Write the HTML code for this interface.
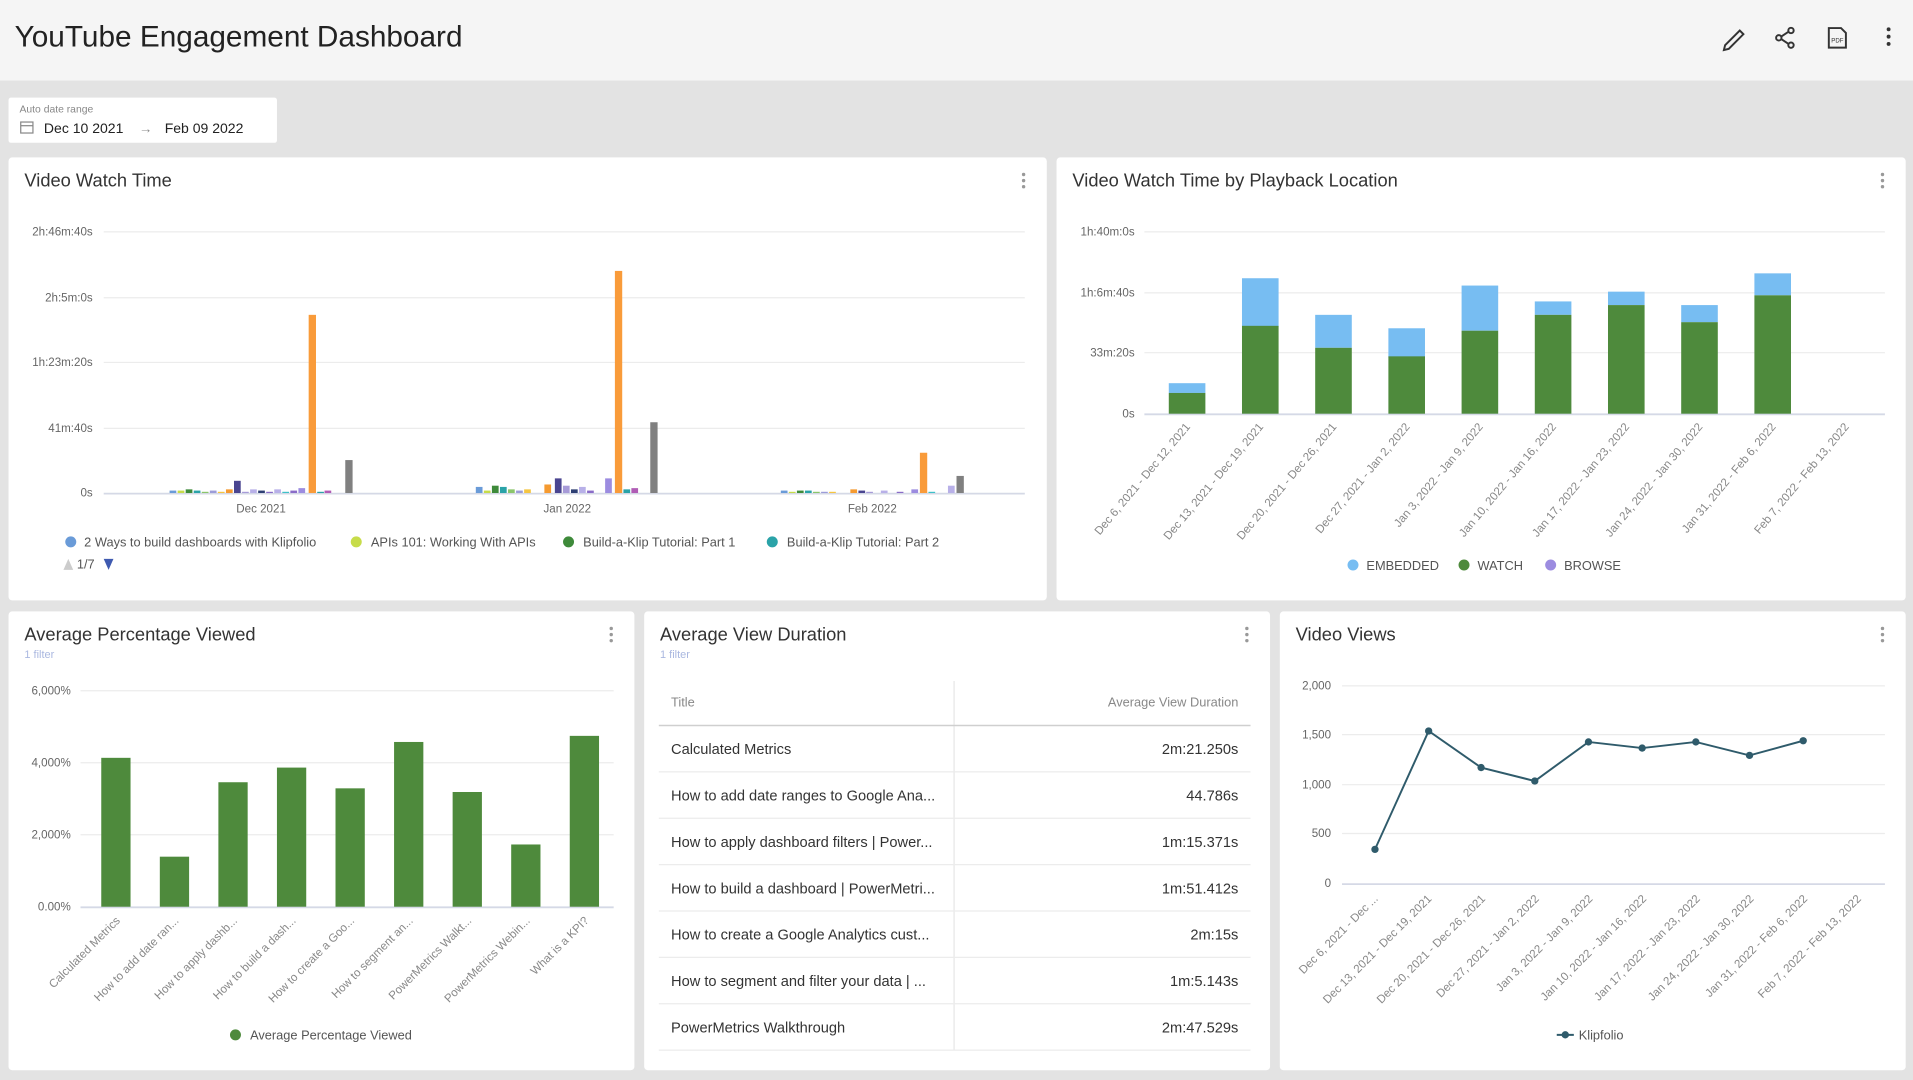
<!DOCTYPE html>
<html><head><meta charset="utf-8"><style>
html,body{margin:0;padding:0;width:1913px;height:1080px;overflow:hidden;background:#e3e3e3}
svg{display:block}
text{font-family:"Liberation Sans",sans-serif}
.ax{font-size:9.5px;fill:#666}
.gl{stroke:#ececec;stroke-width:1}
.bl{stroke:#d5d9e6;stroke-width:1.5}
.tt{font-size:15px;fill:#333}
.lg{font-size:10.5px;fill:#555}
.rt{font-size:9.5px;fill:#888}
.td{font-size:12px;fill:#333}
</style></head><body>
<svg width="1913" height="1080" viewBox="0 0 1568 885" preserveAspectRatio="none">
<rect x="0" y="0" width="1568" height="885" fill="#e3e3e3"/>
<rect x="0" y="0" width="1568" height="66" fill="#f5f5f5"/>
<text x="12" y="38" font-size="24.4" fill="#222">YouTube Engagement Dashboard</text>
<g stroke="#333" stroke-width="1.6" fill="none">
<path d="M1414 37 L1426 25 L1429 28 L1417 40 L1413 41 Z"/>
<circle cx="1468" cy="25" r="2.2"/><circle cx="1458" cy="31" r="2.2"/><circle cx="1468" cy="37" r="2.2"/>
<path d="M1466 26 L1460 30 M1460 32 L1466 36"/>
<path d="M1499 23 L1509 23 L1513 27 L1513 39 L1499 39 Z"/>
</g>
<text x="1501" y="35" font-size="5" fill="#333">PDF</text>
<circle cx="1548" cy="24" r="1.6" fill="#333"/><circle cx="1548" cy="30" r="1.6" fill="#333"/><circle cx="1548" cy="36" r="1.6" fill="#333"/>

<rect x="7" y="80" width="220" height="37" fill="#fff" rx="2"/>
<text x="16" y="92" font-size="8.5" fill="#888">Auto date range</text>
<rect x="17" y="100" width="10" height="9" fill="none" stroke="#888" stroke-width="1"/>
<line x1="17" y1="103" x2="27" y2="103" stroke="#888"/>
<text x="36" y="109" font-size="11.5" fill="#222">Dec 10 2021</text>
<text x="114" y="109" font-size="11" fill="#888">→</text>
<text x="135" y="109" font-size="11.5" fill="#222">Feb 09 2022</text>

<rect x="7" y="129" width="851" height="363" fill="#fff" rx="3"/>
<rect x="866" y="129" width="696" height="363" fill="#fff" rx="3"/>
<rect x="7" y="501" width="513" height="376" fill="#fff" rx="3"/>
<rect x="528" y="501" width="513" height="376" fill="#fff" rx="3"/>
<rect x="1049" y="501" width="513" height="376" fill="#fff" rx="3"/>
<g fill="#999">
<circle cx="839" cy="143" r="1.4"/><circle cx="839" cy="148" r="1.4"/><circle cx="839" cy="153" r="1.4"/>
<circle cx="1543" cy="143" r="1.4"/><circle cx="1543" cy="148" r="1.4"/><circle cx="1543" cy="153" r="1.4"/>
<circle cx="501" cy="515" r="1.4"/><circle cx="501" cy="520" r="1.4"/><circle cx="501" cy="525" r="1.4"/>
<circle cx="1022" cy="515" r="1.4"/><circle cx="1022" cy="520" r="1.4"/><circle cx="1022" cy="525" r="1.4"/>
<circle cx="1543" cy="515" r="1.4"/><circle cx="1543" cy="520" r="1.4"/><circle cx="1543" cy="525" r="1.4"/>
</g>

<text x="20" y="153" class="tt">Video Watch Time</text>
<g class="ax" text-anchor="end">
<text x="76" y="193">2h:46m:40s</text><text x="76" y="247">2h:5m:0s</text><text x="76" y="300">1h:23m:20s</text><text x="76" y="354">41m:40s</text><text x="76" y="407">0s</text>
</g>
<line x1="85" y1="190" x2="840" y2="190" class="gl"/><line x1="85" y1="244" x2="840" y2="244" class="gl"/><line x1="85" y1="297" x2="840" y2="297" class="gl"/><line x1="85" y1="351" x2="840" y2="351" class="gl"/>
<line x1="85" y1="404.5" x2="840" y2="404.5" class="bl"/>
<g>
<rect x="139" y="402" width="5.5" height="2" fill="#6a9bd8"/>
<rect x="145.6" y="402" width="5.5" height="2" fill="#c7dc4a"/>
<rect x="152.2" y="401" width="5.5" height="3" fill="#3e8a3a"/>
<rect x="158.8" y="402" width="5.5" height="2" fill="#2aa3a8"/>
<rect x="165.4" y="403" width="5.5" height="1" fill="#8bc56b"/>
<rect x="172" y="402" width="5.5" height="2" fill="#9c9cd8"/>
<rect x="178.6" y="403" width="5.5" height="1" fill="#f5c542"/>
<rect x="185.2" y="401" width="5.5" height="3" fill="#f59a30"/>
<rect x="191.8" y="394" width="5.5" height="10" fill="#4a4590"/>
<rect x="198.4" y="403" width="5.5" height="1" fill="#a79bd8"/>
<rect x="205" y="401" width="5.5" height="3" fill="#b8b0e8"/>
<rect x="211.6" y="402" width="5.5" height="2" fill="#2d3f73"/>
<rect x="218.2" y="403" width="5.5" height="1" fill="#8a6cc8"/>
<rect x="224.8" y="401" width="5.5" height="3" fill="#b8b0e8"/>
<rect x="231.4" y="403" width="5.5" height="1" fill="#3fc1c9"/>
<rect x="238" y="402" width="5.5" height="2" fill="#8a6cc8"/>
<rect x="244.6" y="400" width="5.5" height="4" fill="#9c8ce0"/>
<rect x="253" y="258" width="6" height="146" fill="#f99b3a"/>
<rect x="260" y="403" width="5.5" height="1" fill="#2aa3a8"/>
<rect x="266" y="402" width="5.5" height="2" fill="#b05cb5"/>
<rect x="283" y="377" width="6" height="27" fill="#808080"/>
</g>
<g>
<rect x="390" y="399" width="5.5" height="5" fill="#6a9bd8"/>
<rect x="396.6" y="402" width="5.5" height="2" fill="#c7dc4a"/>
<rect x="403.2" y="398" width="5.5" height="6" fill="#3e8a3a"/>
<rect x="409.8" y="399" width="5.5" height="5" fill="#2aa3a8"/>
<rect x="416.4" y="401" width="5.5" height="3" fill="#8bc56b"/>
<rect x="423" y="402" width="5.5" height="2" fill="#9c9cd8"/>
<rect x="429.6" y="401" width="5.5" height="3" fill="#f5c542"/>
<rect x="446.2" y="397" width="5.5" height="7" fill="#f59a30"/>
<rect x="454.8" y="392" width="5.5" height="12" fill="#4a4590"/>
<rect x="461.4" y="398" width="5.5" height="6" fill="#a79bd8"/>
<rect x="468" y="401" width="5.5" height="3" fill="#2d3f73"/>
<rect x="474.6" y="399" width="5.5" height="5" fill="#b8b0e8"/>
<rect x="481.2" y="402" width="5.5" height="2" fill="#8a6cc8"/>
<rect x="496" y="392" width="5.5" height="12" fill="#9c8ce0"/>
<rect x="504" y="222" width="6" height="182" fill="#f99b3a"/>
<rect x="511" y="401" width="5.5" height="3" fill="#2aa3a8"/>
<rect x="517.5" y="400" width="5.5" height="4" fill="#b05cb5"/>
<rect x="533" y="346" width="6" height="58" fill="#808080"/>
</g>
<g>
<rect x="640" y="402" width="5.5" height="2" fill="#6a9bd8"/>
<rect x="646.6" y="403" width="5.5" height="1" fill="#c7dc4a"/>
<rect x="653.2" y="402" width="5.5" height="2" fill="#3e8a3a"/>
<rect x="659.8" y="402" width="5.5" height="2" fill="#2aa3a8"/>
<rect x="666.4" y="403" width="5.5" height="1" fill="#8bc56b"/>
<rect x="673" y="403" width="5.5" height="1" fill="#9c9cd8"/>
<rect x="679.6" y="403" width="5.5" height="1" fill="#f5c542"/>
<rect x="697" y="401" width="5.5" height="3" fill="#f59a30"/>
<rect x="703.6" y="402" width="5.5" height="2" fill="#4a4590"/>
<rect x="710" y="403" width="5.5" height="1" fill="#a79bd8"/>
<rect x="722" y="402" width="5.5" height="2" fill="#b8b0e8"/>
<rect x="735" y="403" width="5.5" height="1" fill="#8a6cc8"/>
<rect x="747" y="401" width="5.5" height="3" fill="#9c8ce0"/>
<rect x="754" y="371" width="6" height="33" fill="#f99b3a"/>
<rect x="761" y="403" width="5.5" height="1" fill="#3fc1c9"/>
<rect x="777" y="398" width="5.5" height="6" fill="#b8b0e8"/>
<rect x="784" y="390" width="6" height="14" fill="#808080"/>
</g>
<g class="ax" text-anchor="middle"><text x="214" y="420">Dec 2021</text><text x="465" y="420">Jan 2022</text><text x="715" y="420">Feb 2022</text></g>
<circle cx="58" cy="444" r="4.5" fill="#6a9bd8"/><text x="69" y="448" class="lg">2 Ways to build dashboards with Klipfolio</text>
<circle cx="292" cy="444" r="4.5" fill="#c7dc4a"/><text x="304" y="448" class="lg">APIs 101: Working With APIs</text>
<circle cx="466" cy="444" r="4.5" fill="#3e8a3a"/><text x="478" y="448" class="lg">Build-a-Klip Tutorial: Part 1</text>
<circle cx="633" cy="444" r="4.5" fill="#2aa3a8"/><text x="645" y="448" class="lg">Build-a-Klip Tutorial: Part 2</text>
<path d="M52 467 L56 458 L60 467 Z" fill="#ccc"/><text x="63" y="466" class="lg">1/7</text><path d="M85 458 L93 458 L89 467 Z" fill="#3f5ab0"/>

<text x="879" y="153" class="tt">Video Watch Time by Playback Location</text>
<g class="ax" text-anchor="end"><text x="930" y="193">1h:40m:0s</text><text x="930" y="243">1h:6m:40s</text><text x="930" y="292">33m:20s</text><text x="930" y="342">0s</text></g>
<line x1="938" y1="190" x2="1545" y2="190" class="gl"/><line x1="938" y1="240" x2="1545" y2="240" class="gl"/><line x1="938" y1="289" x2="1545" y2="289" class="gl"/>
<line x1="938" y1="339.5" x2="1545" y2="339.5" class="bl"/>
<g fill="#77bdf2">
<rect x="958" y="314" width="30" height="8"/><rect x="1018" y="228" width="30" height="40"/><rect x="1078" y="258" width="30" height="27"/><rect x="1138" y="269" width="30" height="24"/><rect x="1198" y="234" width="30" height="37"/><rect x="1258" y="247" width="30" height="11"/><rect x="1318" y="239" width="30" height="11"/><rect x="1378" y="250" width="30" height="14"/><rect x="1438" y="224" width="30" height="18"/>
</g>
<g fill="#4e8a3c">
<rect x="958" y="322" width="30" height="17"/><rect x="1018" y="267" width="30" height="72"/><rect x="1078" y="285" width="30" height="54"/><rect x="1138" y="292" width="30" height="47"/><rect x="1198" y="271" width="30" height="68"/><rect x="1258" y="258" width="30" height="81"/><rect x="1318" y="250" width="30" height="89"/><rect x="1378" y="264" width="30" height="75"/><rect x="1438" y="242" width="30" height="97"/>
</g>
<g class="rt" text-anchor="end">
<text transform="translate(976,350) rotate(-50)">Dec 6, 2021 - Dec 12, 2021</text>
<text transform="translate(1036,350) rotate(-50)">Dec 13, 2021 - Dec 19, 2021</text>
<text transform="translate(1096,350) rotate(-50)">Dec 20, 2021 - Dec 26, 2021</text>
<text transform="translate(1156,350) rotate(-50)">Dec 27, 2021 - Jan 2, 2022</text>
<text transform="translate(1216,350) rotate(-50)">Jan 3, 2022 - Jan 9, 2022</text>
<text transform="translate(1276,350) rotate(-50)">Jan 10, 2022 - Jan 16, 2022</text>
<text transform="translate(1336,350) rotate(-50)">Jan 17, 2022 - Jan 23, 2022</text>
<text transform="translate(1396,350) rotate(-50)">Jan 24, 2022 - Jan 30, 2022</text>
<text transform="translate(1456,350) rotate(-50)">Jan 31, 2022 - Feb 6, 2022</text>
<text transform="translate(1516,350) rotate(-50)">Feb 7, 2022 - Feb 13, 2022</text>
</g>
<circle cx="1109" cy="463" r="4.5" fill="#77bdf2"/><text x="1120" y="467" class="lg">EMBEDDED</text>
<circle cx="1200" cy="463" r="4.5" fill="#4e8a3c"/><text x="1211" y="467" class="lg">WATCH</text>
<circle cx="1271" cy="463" r="4.5" fill="#9c8ce0"/><text x="1282" y="467" class="lg">BROWSE</text>

<text x="20" y="525" class="tt">Average Percentage Viewed</text>
<text x="20" y="539" font-size="9" fill="#aab8e0">1 filter</text>
<g class="ax" text-anchor="end"><text x="58" y="569">6,000%</text><text x="58" y="628">4,000%</text><text x="58" y="687">2,000%</text><text x="58" y="746">0.00%</text></g>
<line x1="66" y1="566" x2="503" y2="566" class="gl"/><line x1="66" y1="625" x2="503" y2="625" class="gl"/><line x1="66" y1="684" x2="503" y2="684" class="gl"/>
<line x1="66" y1="743.5" x2="503" y2="743.5" class="bl"/>
<g fill="#4e8a3c">
<rect x="83" y="621" width="24" height="122"/><rect x="131" y="702" width="24" height="41"/><rect x="179" y="641" width="24" height="102"/><rect x="227" y="629" width="24" height="114"/><rect x="275" y="646" width="24" height="97"/><rect x="323" y="608" width="24" height="135"/><rect x="371" y="649" width="24" height="94"/><rect x="419" y="692" width="24" height="51"/><rect x="467" y="603" width="24" height="140"/>
</g>
<g class="rt" text-anchor="end">
<text transform="translate(99,755) rotate(-45)">Calculated Metrics</text>
<text transform="translate(147,755) rotate(-45)">How to add date ran...</text>
<text transform="translate(195,755) rotate(-45)">How to apply dashb...</text>
<text transform="translate(243,755) rotate(-45)">How to build a dash...</text>
<text transform="translate(291,755) rotate(-45)">How to create a Goo...</text>
<text transform="translate(339,755) rotate(-45)">How to segment an...</text>
<text transform="translate(387,755) rotate(-45)">PowerMetrics Walkt...</text>
<text transform="translate(435,755) rotate(-45)">PowerMetrics Webin...</text>
<text transform="translate(483,755) rotate(-45)">What is a KPI?</text>
</g>
<circle cx="193" cy="848" r="4.5" fill="#4e8a3c"/><text x="205" y="852" class="lg">Average Percentage Viewed</text>

<text x="541" y="525" class="tt">Average View Duration</text>
<text x="541" y="539" font-size="9" fill="#aab8e0">1 filter</text>
<line x1="782" y1="558" x2="782" y2="860" stroke="#e6e6e6"/>
<text x="550" y="579" font-size="10.5" fill="#888">Title</text>
<text x="1015" y="579" font-size="10.5" fill="#888" text-anchor="end">Average View Duration</text>
<line x1="540" y1="594.5" x2="1025" y2="594.5" stroke="#cfcfcf" stroke-width="1.2"/>
<g stroke="#ececec"><line x1="540" y1="632.5" x2="1025" y2="632.5"/><line x1="540" y1="670.5" x2="1025" y2="670.5"/><line x1="540" y1="708.5" x2="1025" y2="708.5"/><line x1="540" y1="746.5" x2="1025" y2="746.5"/><line x1="540" y1="784.5" x2="1025" y2="784.5"/><line x1="540" y1="822.5" x2="1025" y2="822.5"/><line x1="540" y1="860.5" x2="1025" y2="860.5"/></g>
<g class="td">
<text x="550" y="618">Calculated Metrics</text>
<text x="550" y="656">How to add date ranges to Google Ana...</text>
<text x="550" y="694">How to apply dashboard filters | Power...</text>
<text x="550" y="732">How to build a dashboard | PowerMetri...</text>
<text x="550" y="770">How to create a Google Analytics cust...</text>
<text x="550" y="808">How to segment and filter your data | ...</text>
<text x="550" y="846">PowerMetrics Walkthrough</text>
</g>
<g class="td" text-anchor="end">
<text x="1015" y="618">2m:21.250s</text><text x="1015" y="656">44.786s</text><text x="1015" y="694">1m:15.371s</text><text x="1015" y="732">1m:51.412s</text><text x="1015" y="770">2m:15s</text><text x="1015" y="808">1m:5.143s</text><text x="1015" y="846">2m:47.529s</text>
</g>

<text x="1062" y="525" class="tt">Video Views</text>
<g class="ax" text-anchor="end"><text x="1091" y="565">2,000</text><text x="1091" y="605">1,500</text><text x="1091" y="646">1,000</text><text x="1091" y="686">500</text><text x="1091" y="727">0</text></g>
<line x1="1100" y1="562" x2="1545" y2="562" class="gl"/><line x1="1100" y1="602" x2="1545" y2="602" class="gl"/><line x1="1100" y1="643" x2="1545" y2="643" class="gl"/><line x1="1100" y1="683" x2="1545" y2="683" class="gl"/>
<line x1="1100" y1="724.5" x2="1545" y2="724.5" class="bl"/>
<polyline points="1127,696 1171,599 1214,629 1258,640 1302,608 1346,613 1390,608 1434,619 1478,607" fill="none" stroke="#2f5b6b" stroke-width="1.6"/>
<g fill="#2f5b6b"><circle cx="1127" cy="696" r="3"/><circle cx="1171" cy="599" r="3"/><circle cx="1214" cy="629" r="3"/><circle cx="1258" cy="640" r="3"/><circle cx="1302" cy="608" r="3"/><circle cx="1346" cy="613" r="3"/><circle cx="1390" cy="608" r="3"/><circle cx="1434" cy="619" r="3"/><circle cx="1478" cy="607" r="3"/></g>
<g class="rt" text-anchor="end">
<text transform="translate(1130,737) rotate(-45)">Dec 6, 2021 - Dec ...</text>
<text transform="translate(1174,737) rotate(-45)">Dec 13, 2021 - Dec 19, 2021</text>
<text transform="translate(1218,737) rotate(-45)">Dec 20, 2021 - Dec 26, 2021</text>
<text transform="translate(1262,737) rotate(-45)">Dec 27, 2021 - Jan 2, 2022</text>
<text transform="translate(1306,737) rotate(-45)">Jan 3, 2022 - Jan 9, 2022</text>
<text transform="translate(1350,737) rotate(-45)">Jan 10, 2022 - Jan 16, 2022</text>
<text transform="translate(1394,737) rotate(-45)">Jan 17, 2022 - Jan 23, 2022</text>
<text transform="translate(1438,737) rotate(-45)">Jan 24, 2022 - Jan 30, 2022</text>
<text transform="translate(1482,737) rotate(-45)">Jan 31, 2022 - Feb 6, 2022</text>
<text transform="translate(1526,737) rotate(-45)">Feb 7, 2022 - Feb 13, 2022</text>
</g>
<line x1="1276" y1="848" x2="1290" y2="848" stroke="#2f5b6b" stroke-width="1.6"/><circle cx="1283" cy="848" r="3" fill="#2f5b6b"/>
<text x="1294" y="852" class="lg">Klipfolio</text>
</svg>
</body></html>
